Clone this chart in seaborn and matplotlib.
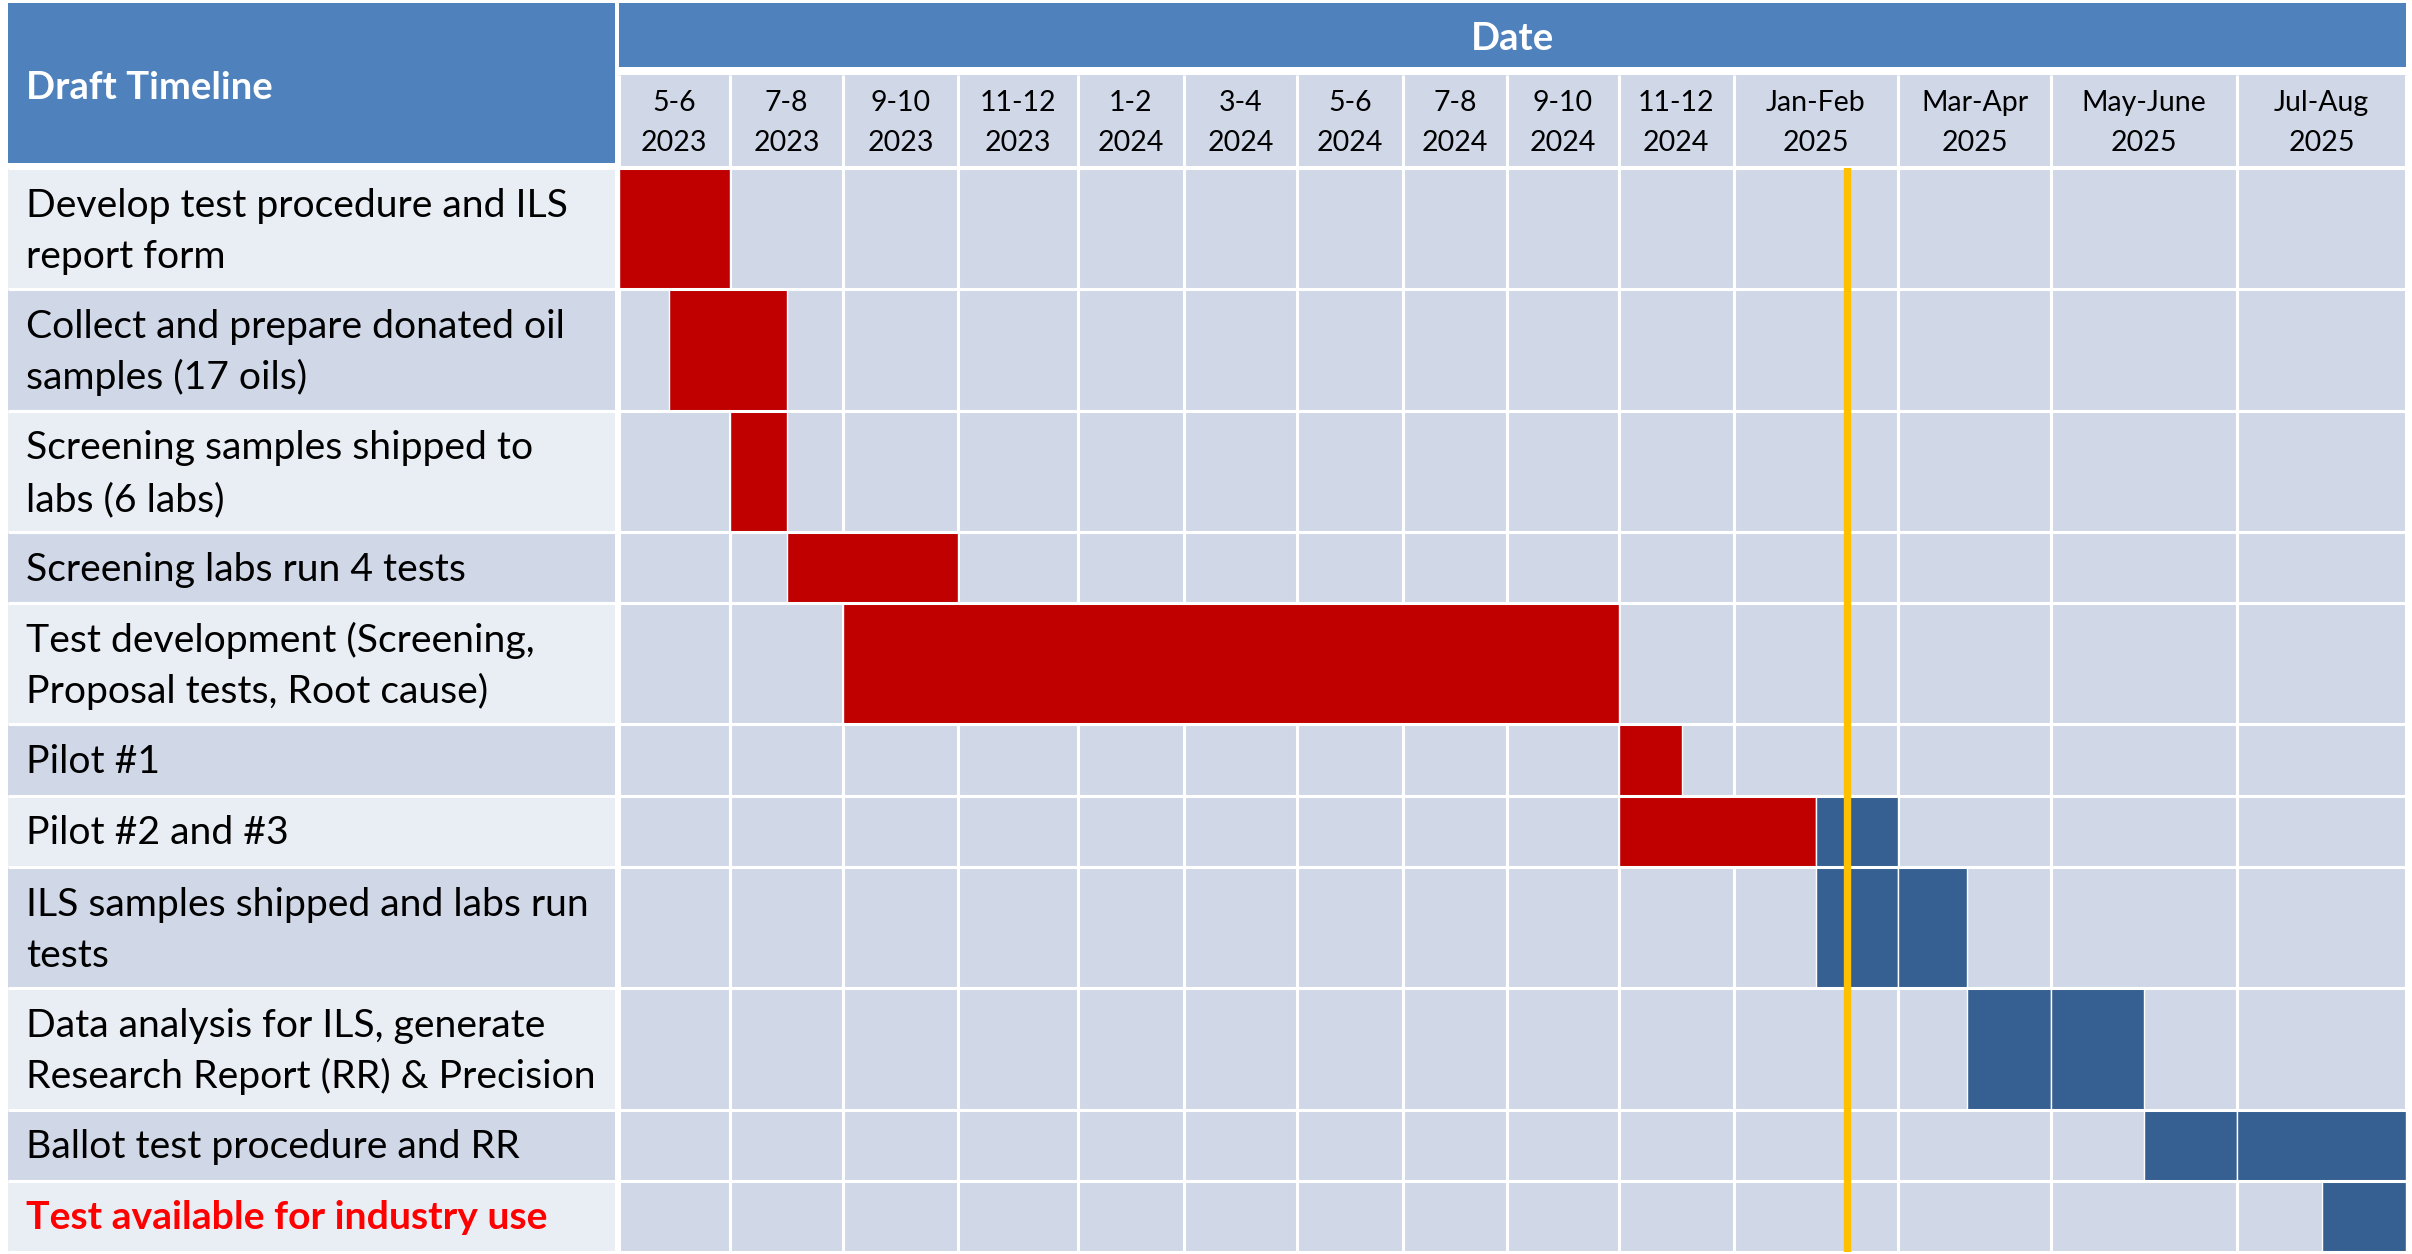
import numpy as np
import matplotlib
matplotlib.use("Agg")
import matplotlib.pyplot as plt
import matplotlib.transforms as mtransforms
from matplotlib.patches import Rectangle
import seaborn as sns

# ---------------- data ----------------
period_labels = ["5-6\n2023", "7-8\n2023", "9-10\n2023", "11-12\n2023", "1-2\n2024",
                 "3-4\n2024", "5-6\n2024", "7-8\n2024", "9-10\n2024", "11-12\n2024",
                 "Jan-Feb\n2025", "Mar-Apr\n2025", "May-June\n2025", "Jul-Aug\n2025"]
period_months = [2] * 14          # every column covers two months

tasks = ["Develop test procedure and ILS\nreport form",
         "Collect and prepare donated oil\nsamples (17 oils)",
         "Screening samples shipped to\nlabs (6 labs)",
         "Screening labs run 4 tests",
         "Test development (Screening,\nProposal tests, Root cause)",
         "Pilot #1",
         "Pilot #2 and #3",
         "ILS samples shipped and labs run\ntests",
         "Data analysis for ILS, generate\nResearch Report (RR) & Precision",
         "Ballot test procedure and RR",
         "Test available for industry use"]
highlight_task = "Test available for industry use"

# bar segments, in months counted from 1 May 2023
seg_task  = [0, 1, 2, 3, 4, 5, 6, 6, 7, 7, 8, 8, 9, 9, 10]
seg_start = [0.0, 0.9, 2.0, 3.0, 4.0, 18.0, 18.0, 21.0, 21.0, 22.0, 22.9, 24.0, 25.0, 26.0, 27.0]
seg_end   = [2.0, 3.0, 3.0, 6.0, 18.0, 19.1, 21.0, 22.0, 22.0, 22.9, 24.0, 25.0, 26.0, 28.0, 28.0]
seg_state = ["done"] * 7 + ["planned"] * 8
today_month = 21.38

title_left = "Draft Timeline"
title_top = "Date"

# ---------------- styling / layout ----------------
W, H, DPI = 2412, 1254, 100
HEAD_BLUE = "#4F81BD"
CELL_DARK = "#D0D8E8"
CELL_LIGHT = "#E9EDF4"
state_colors = {"done": "#C00000", "planned": "#366092"}
TODAY_COLOR = "#FFC000"
GRID_LW = 2.2

col_edges_px = [618.5, 730, 843, 958, 1078, 1184, 1297, 1403, 1507, 1619,
                1733.5, 1898, 2051, 2237, 2406]
GRID_L, GRID_R, GRID_T = col_edges_px[0], col_edges_px[-1], 168.0
LAB_L, LAB_R = 8.0, 615.0
HDR_T, DATE_B, SUB_T, SUB_B, DRAFT_B = 3.0, 67.0, 75.0, 166.0, 163.0
LINE_STEP = 51.5
FIRST_BASE = 48.7

sns.set_theme(style="white")
plt.rcParams["font.family"] = ["Lato", "DejaVu Sans"]

n_lines = [t.count("\n") + 1 for t in tasks]
row_h = [21.2 + 50.05 * n for n in n_lines]
row_edges_px = GRID_T + np.concatenate([[0.0], np.cumsum(row_h)])
month_edges = np.concatenate([[0.0], np.cumsum(period_months)])
nrow = len(tasks)
row_idx = np.arange(nrow + 1, dtype=float)


def px_rect(x0, y0, x1, y1):
    return [x0 / W, 1 - y1 / H, (x1 - x0) / W, (y1 - y0) / H]


fig = plt.figure(figsize=(W / DPI, H / DPI), dpi=DPI)

# layout layer in pixel coordinates (header cells)
lay = fig.add_axes([0, 0, 1, 1])
lay.set_xlim(0, W)
lay.set_ylim(H, 0)
lay.axis("off")
lay.add_patch(Rectangle((LAB_L, HDR_T), LAB_R - LAB_L, DRAFT_B - HDR_T, color=HEAD_BLUE, lw=0))
lay.add_patch(Rectangle((GRID_L, HDR_T), GRID_R - GRID_L, DATE_B - HDR_T, color=HEAD_BLUE, lw=0))
lay.text(LAB_L + 18, 99, title_left, color="white", fontsize=27.5, fontweight="bold",
         ha="left", va="baseline")
lay.text((GRID_L + GRID_R) / 2, 50, title_top, color="white", fontsize=27.5,
         fontweight="bold", ha="center", va="baseline")

# main grid axes with column / row scales
ax = fig.add_axes(px_rect(GRID_L, GRID_T, GRID_R, row_edges_px[-1]))
ax.set_xscale("function", functions=(lambda m: np.interp(m, month_edges, col_edges_px),
                                     lambda p: np.interp(p, col_edges_px, month_edges)))
ax.set_yscale("function", functions=(lambda r: np.interp(r, row_idx, row_edges_px),
                                     lambda p: np.interp(p, row_edges_px, row_idx)))
ax.set_xlim(month_edges[0], month_edges[-1])
ax.set_ylim(nrow, 0)
ax.set_facecolor(CELL_DARK)
ax.vlines(month_edges, 0, nrow, colors="white", lw=GRID_LW, zorder=1)
for t, s, e, st in zip(seg_task, seg_start, seg_end, seg_state):
    ax.barh(t + 0.5, e - s, left=s, height=1.0, color=state_colors[st],
            edgecolor="white", linewidth=1.0, zorder=2)
ax.hlines(row_idx, month_edges[0], month_edges[-1], colors="white", lw=GRID_LW, zorder=3)
ax.axvline(today_month, color=TODAY_COLOR, lw=5.3, zorder=4)
ax.set_xticks([])
ax.set_yticks([])

# task label column
lab = fig.add_axes(px_rect(LAB_L, GRID_T, LAB_R, row_edges_px[-1]), sharey=ax)
lab.set_xlim(0, 1)
lab.barh(np.arange(nrow) + 0.5, 1, left=0, height=1.0,
         color=[CELL_LIGHT if i % 2 == 0 else CELL_DARK for i in range(nrow)],
         linewidth=0, zorder=1)
lab.hlines(row_idx, 0, 1, colors="white", lw=GRID_LW, zorder=2)
for i, t in enumerate(tasks):
    hl = (t == highlight_task)
    for k, line in enumerate(t.split("\n")):
        tr = mtransforms.offset_copy(lab.transData, fig=fig, x=18,
                                     y=-(FIRST_BASE + k * LINE_STEP), units="dots")
        lab.text(0, i, line, transform=tr, ha="left", va="baseline", fontsize=28.2,
                 color="#FF0000" if hl else "black",
                 fontweight="bold" if hl else "normal")
lab.set_xticks([])

# period header row
hdr = fig.add_axes(px_rect(GRID_L, SUB_T, GRID_R, SUB_B), sharex=ax)
hdr.set_ylim(0, 1)
hdr.set_facecolor(CELL_DARK)
hdr.vlines(month_edges, 0, 1, colors="white", lw=GRID_LW)
centers = month_edges[:-1] + np.array(period_months) / 2
blend = mtransforms.blended_transform_factory(hdr.transData, hdr.transAxes)
for c, lbl in zip(centers, period_labels):
    for k, line in enumerate(lbl.split("\n")):
        tr = mtransforms.offset_copy(blend, fig=fig, y=-(36 + k * 39.7), units="dots")
        hdr.text(c, 1, line, transform=tr, ha="center", va="baseline",
                 fontsize=20.5, color="black")
hdr.set_yticks([])

for a in (ax, lab, hdr):
    for sp in a.spines.values():
        sp.set_visible(False)
    a.tick_params(length=0)

fig.savefig("out.png", dpi=DPI)
